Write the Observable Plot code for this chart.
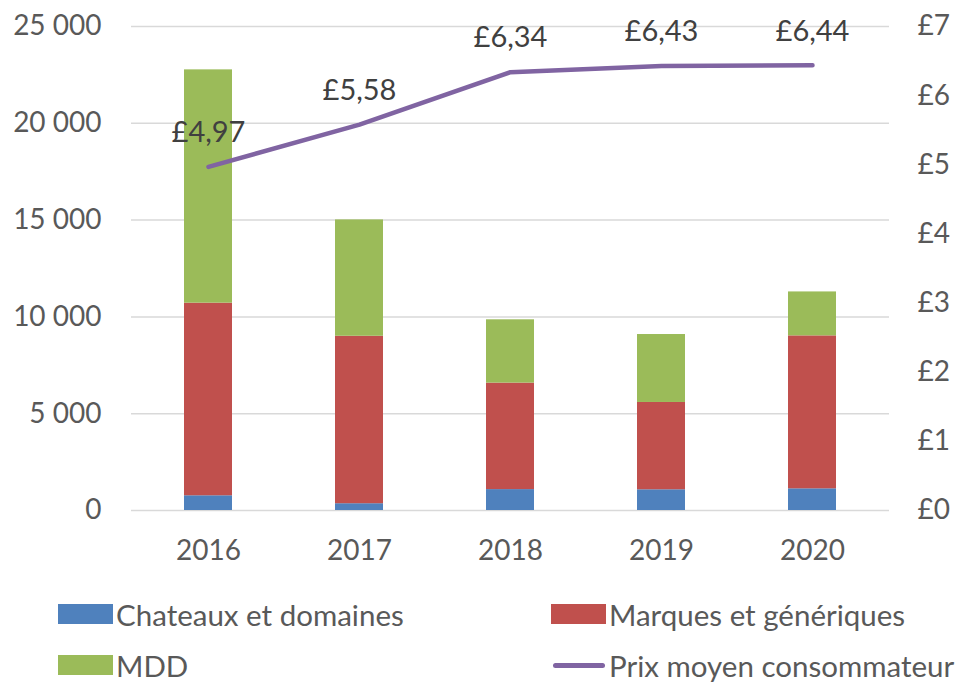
<!DOCTYPE html>
<html>
<head>
<meta charset="utf-8">
<script src="https://cdn.jsdelivr.net/npm/d3@7"></script>
<script src="https://cdn.jsdelivr.net/npm/@observablehq/plot@0.6"></script>
<style>
  body { margin: 0; background: #fff; font-family: Lato, "Open Sans", sans-serif; }
  #wrap { position: relative; width: 961px; height: 686px; }
  #legend { position: absolute; left: 0; top: 0; width: 961px; height: 686px; pointer-events: none; }
  .item { position: absolute; display: flex; align-items: center; font-size: 29.5px; color: #595959; white-space: nowrap; }
  .sw { width: 55px; height: 20px; margin-right: 3px; }
  .ln { width: 52px; height: 5px; border-radius: 3px; margin-right: 4px; }
</style>
</head>
<body>
<div id="wrap">
  <div id="chart"></div>
  <div id="legend"></div>
</div>
<script>
const years = ["2016", "2017", "2018", "2019", "2020"];
const seriesNames = ["Chateaux et domaines", "Marques et génériques", "MDD"];
const chateaux = [760, 350, 1080, 1070, 1120];
const marques = [9950, 8650, 5500, 4510, 7900];
const mdd = [12050, 6010, 3270, 3510, 2270];
const prices = [4.97, 5.58, 6.34, 6.43, 6.44];
const priceLabels = ["£4,97", "£5,58", "£6,34", "£6,43", "£6,44"];
const lineName = "Prix moyen consommateur";
const leftTicks = [0, 5000, 10000, 15000, 20000, 25000];
const rightTicks = [0, 1, 2, 3, 4, 5, 6, 7];
const colors = ["#4F81BD", "#C0504D", "#9BBB59"];
const lineColor = "#8064A2";

const yMax = 25000, pMax = 7;
const toY = p => p * yMax / pMax;

const seriesValues = [chateaux, marques, mdd];
const barData = [];
seriesNames.forEach((s, si) => years.forEach((y, i) => barData.push({year: y, series: s, value: seriesValues[si][i]})));
const priceData = years.map((y, i) => ({year: y, price: prices[i], label: priceLabels[i]}));

const fmt = d => d3.format(",")(d).replace(/,/g, " ");

const chart = Plot.plot({
  width: 961,
  height: 580,
  marginTop: 26,
  marginBottom: 70,
  marginLeft: 131,
  marginRight: 72,
  style: {fontFamily: "Lato, 'Open Sans', sans-serif", fontSize: "28px", color: "#595959", background: "#fff"},
  x: {domain: years, paddingInner: 0.68, paddingOuter: 0.34, label: null},
  y: {domain: [0, yMax], label: null},
  color: {domain: seriesNames, range: colors},
  marks: [
    Plot.gridY(leftTicks, {stroke: "#D9D9D9", strokeOpacity: 1, strokeWidth: 1.5}),
    Plot.barY(barData, {x: "year", y: "value", fill: "series", order: seriesNames}),
    Plot.axisX({tickSize: 0, tickPadding: 30, fill: "#595959", fontSize: 28}),
    Plot.axisY({ticks: leftTicks, tickFormat: fmt, tickSize: 0, tickPadding: 30, label: null, fill: "#595959", fontSize: 28}),
    Plot.axisY({anchor: "right", ticks: rightTicks.map(toY), tickFormat: d => "£" + Math.round(d * pMax / yMax), tickSize: 0, tickPadding: 28, label: null, fill: "#595959", fontSize: 28}),
    Plot.line(priceData, {x: "year", y: d => toY(d.price), stroke: lineColor, strokeWidth: 4.5, strokeLinecap: "round"}),
    Plot.text(priceData, {x: "year", y: d => toY(d.price), text: "label", dy: -34, fill: "#404040", fontSize: 29})
  ]
});
document.getElementById("chart").appendChild(chart);

const legend = document.getElementById("legend");
const items = [
  {name: seriesNames[0], color: colors[0], x: 58, y: 614, type: "sw"},
  {name: seriesNames[1], color: colors[1], x: 551, y: 614, type: "sw"},
  {name: seriesNames[2], color: colors[2], x: 58, y: 665, type: "sw"},
  {name: lineName, color: lineColor, x: 553, y: 665, type: "ln"}
];
items.forEach(it => {
  const d = document.createElement("div");
  d.className = "item";
  d.style.left = it.x + "px";
  d.style.top = (it.y - 18) + "px";
  d.style.height = "36px";
  const s = document.createElement("span");
  s.className = it.type;
  s.style.background = it.color;
  s.style.display = "inline-block";
  d.appendChild(s);
  d.appendChild(document.createTextNode(it.name));
  legend.appendChild(d);
});
</script>
</body>
</html>
